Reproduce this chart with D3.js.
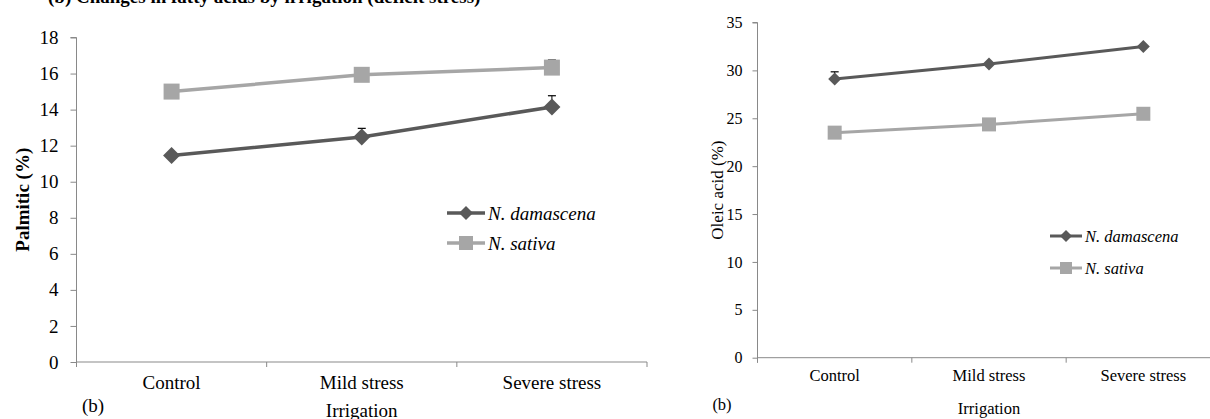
<!DOCTYPE html>
<html>
<head>
<meta charset="utf-8">
<script src="https://cdn.jsdelivr.net/npm/d3@7"></script>
<style>
  html, body { margin: 0; padding: 0; background: #fff; }
  svg { display: block; }
</style>
</head>
<body>
<svg id="chart" width="1210" height="419" font-family="Liberation Serif"></svg>
<script>
// ---- data ----
const categories = ["Control", "Mild stress", "Severe stress"];
const seriesNames = ["N. damascena", "N. sativa"];
const palmiticDamascena = [11.45, 12.48, 14.15];
const palmiticSativa = [15.0, 15.93, 16.33];
const palmiticDamascenaErr = [0, 0.48, 0.62];
const palmiticSativaErr = [0, 0, 0.42];
const oleicDamascena = [29.1, 30.66, 32.5];
const oleicSativa = [23.5, 24.36, 25.47];
const oleicDamascenaErr = [0.75, 0, 0];
const oleicSativaErr = [0, 0, 0];
const palmiticTicks = [0, 2, 4, 6, 8, 10, 12, 14, 16, 18];
const oleicTicks = [0, 5, 10, 15, 20, 25, 30, 35];

const FONT = "Liberation Serif";
const colDark = "#595959", colLight = "#a6a6a6", axisCol = "#898989";
const svg = d3.select("#chart");

// top caption (cropped in the reference)
svg.append("text").attr("x", 48).attr("y", 3).attr("font-family", FONT)
  .attr("font-size", 19).attr("font-weight", "bold")
  .text("(b) Changes in fatty acids by irrigation (deficit stress)");

function panel(cfg) {
  const g = svg.append("g");
  const x = d3.scaleBand().domain(categories).range([cfg.x0, cfg.x1]).padding(0);
  const y = d3.scaleLinear().domain([0, cfg.ymax]).range([cfg.yBottom, cfg.yTop]);

  // y axis
  const ya = g.append("g").attr("transform", `translate(${cfg.x0},0)`)
    .call(d3.axisLeft(y).tickValues(cfg.ticks).tickSize(cfg.tick).tickPadding(cfg.pad));
  ya.attr("font-family", FONT).attr("font-size", cfg.fs);
  ya.select(".domain").attr("stroke", axisCol).attr("d", `M${-cfg.tick},${cfg.yTop}H0V${cfg.yBottom + 5}`);
  ya.selectAll(".tick line").attr("stroke", axisCol);
  ya.selectAll(".tick text").attr("font-family", FONT).attr("font-size", cfg.fs).attr("fill", "#000");

  // x axis (labels at band centres, ticks at band edges)
  const xa = g.append("g").attr("transform", `translate(0,${cfg.yBottom})`)
    .call(d3.axisBottom(x).tickSize(0).tickPadding(cfg.xpad));
  xa.attr("font-family", FONT).attr("font-size", cfg.xfs);
  xa.select(".domain").attr("stroke", axisCol).attr("d", `M${cfg.x0},0H${cfg.x1}`);
  xa.selectAll(".tick text").attr("font-family", FONT).attr("font-size", cfg.xfs).attr("fill", "#000");
  const edges = categories.map(c => x(c)).concat([x(categories[2]) + x.bandwidth()]);
  xa.selectAll("line.edge").data(edges).enter().append("line").attr("class", "edge")
    .attr("x1", d => d).attr("x2", d => d).attr("y1", 0).attr("y2", 5)
    .attr("stroke", axisCol);

  const cx = c => x(c) + x.bandwidth() / 2;
  const line = d3.line().x((d, i) => cx(categories[i])).y(d => y(d));

  const series = [
    {vals: cfg.s2, err: cfg.e2, col: colLight, shape: "square"},
    {vals: cfg.s1, err: cfg.e1, col: colDark, shape: "diamond"}
  ];
  series.forEach(s => {
    s.vals.forEach((v, i) => {
      if (!s.err[i]) return;
      const px = cx(categories[i]);
      g.append("line").attr("x1", px).attr("x2", px).attr("y1", y(v)).attr("y2", y(v + s.err[i]))
        .attr("stroke", "#000").attr("stroke-width", 1);
      g.append("line").attr("x1", px - 4).attr("x2", px + 4).attr("y1", y(v + s.err[i])).attr("y2", y(v + s.err[i]))
        .attr("stroke", "#000").attr("stroke-width", 1.2);
    });
  });
  series.forEach(s => {
    g.append("path").datum(s.vals).attr("d", line).attr("fill", "none")
      .attr("stroke", s.col).attr("stroke-width", cfg.lw);
    g.selectAll(null).data(s.vals).enter().append("path")
      .attr("transform", (d, i) => `translate(${cx(categories[i])},${y(d)})`)
      .attr("d", s.shape === "square"
        ? `M${-cfg.sq},${-cfg.sq}h${2 * cfg.sq}v${2 * cfg.sq}h${-2 * cfg.sq}Z`
        : `M0,${-cfg.dm}L${cfg.dm},0L0,${cfg.dm}L${-cfg.dm},0Z`)
      .attr("fill", s.col);
  });

  // y title
  g.append("text")
    .attr("transform", `translate(${cfg.titleX},${(cfg.yTop + cfg.yBottom) / 2}) rotate(-90)`)
    .attr("text-anchor", "middle").attr("font-family", FONT).attr("font-size", cfg.titleFs)
    .attr("font-weight", cfg.titleBold ? "bold" : "normal").text(cfg.title);
  // x title + panel letter
  g.append("text").attr("x", cx(categories[1])).attr("y", cfg.xtitleY)
    .attr("text-anchor", "middle").attr("font-family", FONT).attr("font-size", cfg.xfs).text("Irrigation");
  g.append("text").attr("x", cfg.bX).attr("y", cfg.bY)
    .attr("text-anchor", "middle").attr("font-family", FONT).attr("font-size", cfg.xfs).text("(b)");

  // legend
  const lg = g.append("g");
  [{n: seriesNames[0], col: colDark, shape: "diamond"}, {n: seriesNames[1], col: colLight, shape: "square"}]
    .forEach((d, i) => {
      const ly = cfg.legY + i * cfg.legGap;
      lg.append("line").attr("x1", cfg.legX).attr("x2", cfg.legX + cfg.legW).attr("y1", ly).attr("y2", ly)
        .attr("stroke", d.col).attr("stroke-width", cfg.lw);
      const m = cfg.legX + cfg.legW / 2;
      const r = cfg.legMark;
      lg.append("path").attr("transform", `translate(${m},${ly})`)
        .attr("d", d.shape === "square" ? `M${-r},${-r}h${2 * r}v${2 * r}h${-2 * r}Z` : `M0,${-r}L${r},0L0,${r}L${-r},0Z`)
        .attr("fill", d.col);
      lg.append("text").attr("x", cfg.legX + cfg.legW + 3).attr("y", ly).attr("dy", "0.35em")
        .attr("font-family", FONT).attr("font-size", cfg.legFs).attr("font-style", "italic").text(d.n);
    });
}

panel({
  x0: 76.5, x1: 647, yTop: 37.5, yBottom: 362, ymax: 18, ticks: palmiticTicks,
  tick: 6, pad: 12, xpad: 14, fs: 19, xfs: 19, lw: 3.5, sq: 8, dm: 8.5,
  s1: palmiticDamascena, s2: palmiticSativa, e1: palmiticDamascenaErr, e2: palmiticSativaErr,
  title: "Palmitic (%)", titleFs: 19, titleBold: true, titleX: 29,
  xtitleY: 417, bX: 93, bY: 412,
  legX: 447, legW: 38, legY: 213, legGap: 30, legFs: 19, legMark: 7
});

panel({
  x0: 757.5, x1: 1220.5, yTop: 22.5, yBottom: 357.7, ymax: 35, ticks: oleicTicks,
  tick: 5, pad: 10, xpad: 12, fs: 16, xfs: 16.5, lw: 3, sq: 7, dm: 6.5,
  s1: oleicDamascena, s2: oleicSativa, e1: oleicDamascenaErr, e2: oleicSativaErr,
  title: "Oleic acid (%)", titleFs: 17, titleBold: false, titleX: 723,
  xtitleY: 414, bX: 722, bY: 410,
  legX: 1050, legW: 32, legY: 236, legGap: 32, legFs: 16.5, legMark: 6
});
</script>
</body>
</html>
